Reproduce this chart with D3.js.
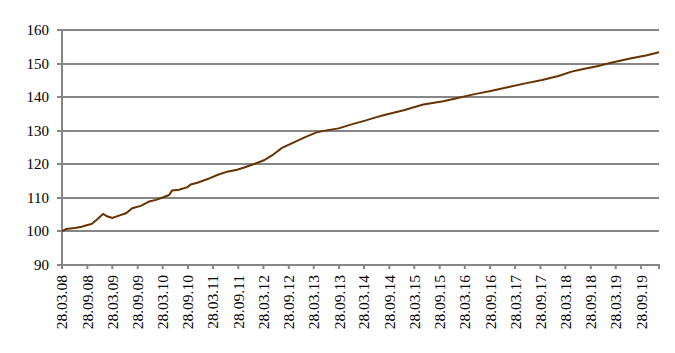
<!DOCTYPE html>
<html>
  <head>
    <meta charset="utf-8">
    <title>Index Line Chart</title>
    <script src="https://d3js.org/d3.v7.min.js"></script>
    <style>
      body { margin: 0; background: #ffffff; }
      svg { font-family: "Liberation Serif", "Times New Roman", serif; }
    </style>
  </head>
  <body>

<svg id="line-chart" width="675" height="353"></svg>

<script>

  // series (dates as yyyy-mm-dd)
  let dates = [
    "2008-03-28", "2008-04-28", "2008-06-28", "2008-08-18", "2008-10-05",
    "2008-10-28", "2008-12-05", "2009-01-20", "2009-02-18", "2009-03-28",
    "2009-05-15", "2009-07-05", "2009-08-20", "2009-10-20", "2009-11-28",
    "2009-12-20", "2010-02-08", "2010-03-28", "2010-05-15", "2010-06-05",
    "2010-07-25", "2010-09-25", "2010-10-18", "2010-12-05", "2011-02-18",
    "2011-04-28", "2011-07-10", "2011-09-20", "2011-11-20", "2012-01-20",
    "2012-04-01", "2012-06-01", "2012-08-10", "2012-11-12", "2013-01-25",
    "2013-04-18", "2013-06-28", "2013-09-25", "2013-12-28", "2014-04-05",
    "2014-06-15", "2014-08-15", "2015-01-10", "2015-06-01", "2015-10-25",
    "2016-01-30", "2016-05-05", "2016-07-15", "2016-10-10", "2017-02-10",
    "2017-06-10", "2017-10-10", "2018-02-05", "2018-05-12", "2018-08-05",
    "2018-11-12", "2019-03-10", "2019-07-10", "2019-11-10", "2020-02-05"
  ];

  let values = [
    100.1, 100.7, 101.0, 101.4, 102.0,
    102.2, 103.5, 105.2, 104.5, 104.0,
    104.7, 105.4, 106.9, 107.6, 108.4,
    108.9, 109.4, 110.1, 110.9, 112.2,
    112.4, 113.2, 114.0, 114.5, 115.6,
    116.8, 117.8, 118.4, 119.2, 120.1,
    121.2, 122.7, 124.9, 126.7, 128.1,
    129.5, 130.1, 130.7, 131.9, 133.0,
    133.9, 134.6, 136.1, 137.8, 138.8,
    139.7, 140.6, 141.2, 141.9, 143.0,
    144.1, 145.1, 146.3, 147.6, 148.4,
    149.2, 150.4, 151.5, 152.5, 153.4
  ];

  // axis labels
  let xTickLabels = [
    "28.03.08", "28.09.08", "28.03.09", "28.09.09", "28.03.10", "28.09.10",
    "28.03.11", "28.09.11", "28.03.12", "28.09.12", "28.03.13", "28.09.13",
    "28.03.14", "28.09.14", "28.03.15", "28.09.15", "28.03.16", "28.09.16",
    "28.03.17", "28.09.17", "28.03.18", "28.09.18", "28.03.19", "28.09.19"
  ];
  let yTicks = [90, 100, 110, 120, 130, 140, 150, 160];

  drawChart();

  function drawChart() {
    let svg = d3.select("body").select("#line-chart");
    console.assert(svg.size() == 1);

    let margin = {
      top:    30,
      right:  16,
      bottom: 88, // room for the rotated dates
      left:   62
    };

    let plotWidth = 675 - margin.left - margin.right;
    let plotHeight = 353 - margin.top - margin.bottom;

    let parseIso = d3.timeParse("%Y-%m-%d");
    let parseLabel = d3.timeParse("%d.%m.%y");

    let data = dates.map((d, i) => ({ date: parseIso(d), value: values[i] }));
    let tickDates = xTickLabels.map(parseLabel);

    let xScale = d3.scaleTime()
      .domain([data[0].date, data[data.length - 1].date])
      .range([0, plotWidth]);

    let yScale = d3.scaleLinear()
      .domain([90, 160])
      .range([plotHeight, 0]);

    let grey = "#868686";

    let plot = svg.append("g").attr("id", "plot");
    plot.attr("transform", translate(margin.left, margin.top));

    // horizontal grid lines
    plot.append("g").attr("id", "grid")
      .selectAll("line")
      .data(yTicks)
      .enter().append("line")
      .attr("x1", 0)
      .attr("x2", plotWidth)
      .attr("y1", d => Math.round(yScale(d)))
      .attr("y2", d => Math.round(yScale(d)))
      .attr("stroke", grey)
      .attr("stroke-width", 2);

    // y axis
    let yAxis = d3.axisLeft(yScale)
      .tickValues(yTicks)
      .tickSize(5)
      .tickPadding(8)
      .offset(0);

    let yGroup = plot.append("g").attr("id", "y-axis");
    yGroup.call(yAxis);
    yGroup.select(".domain").attr("stroke", grey).attr("stroke-width", 2);
    yGroup.selectAll(".tick").attr("transform", d => translate(0, Math.round(yScale(d))));
    yGroup.selectAll(".tick line").attr("stroke", grey).attr("stroke-width", 2);
    yGroup.selectAll(".tick text")
      .attr("fill", "#000")
      .style("font-size", "15px")
      .style("font-family", "'Liberation Serif', 'Times New Roman', serif");

    // x axis with the half-year dates
    let xAxis = d3.axisBottom(xScale)
      .tickValues(tickDates)
      .tickFormat((d, i) => xTickLabels[i])
      .tickSize(4)
      .offset(0);

    let xGroup = plot.append("g").attr("id", "x-axis");
    xGroup.call(xAxis);
    xGroup.attr("transform", translate(0, Math.round(plotHeight)));
    xGroup.select(".domain").attr("stroke", grey).attr("stroke-width", 2);
    xGroup.selectAll(".tick line").attr("stroke", grey).attr("stroke-width", 2);
    xGroup.selectAll(".tick text")
      .attr("fill", "#000")
      .attr("transform", "rotate(-90)")
      .attr("x", -10)
      .attr("y", 0)
      .attr("dy", "0.35em")
      .style("text-anchor", "end")
      .style("font-size", "15.5px")
      .style("font-family", "'Liberation Serif', 'Times New Roman', serif");

    // the series
    let line = d3.line()
      .x(d => xScale(d.date))
      .y(d => yScale(d.value));

    plot.append("path")
      .datum(data)
      .attr("fill", "none")
      .attr("stroke", "#663300")
      .attr("stroke-width", 2)
      .attr("d", line);
  }

  // helper method to make translating easier
  function translate(x, y) {
    return 'translate(' + x + ',' + y + ')';
  }

</script>
</body>
</html>
